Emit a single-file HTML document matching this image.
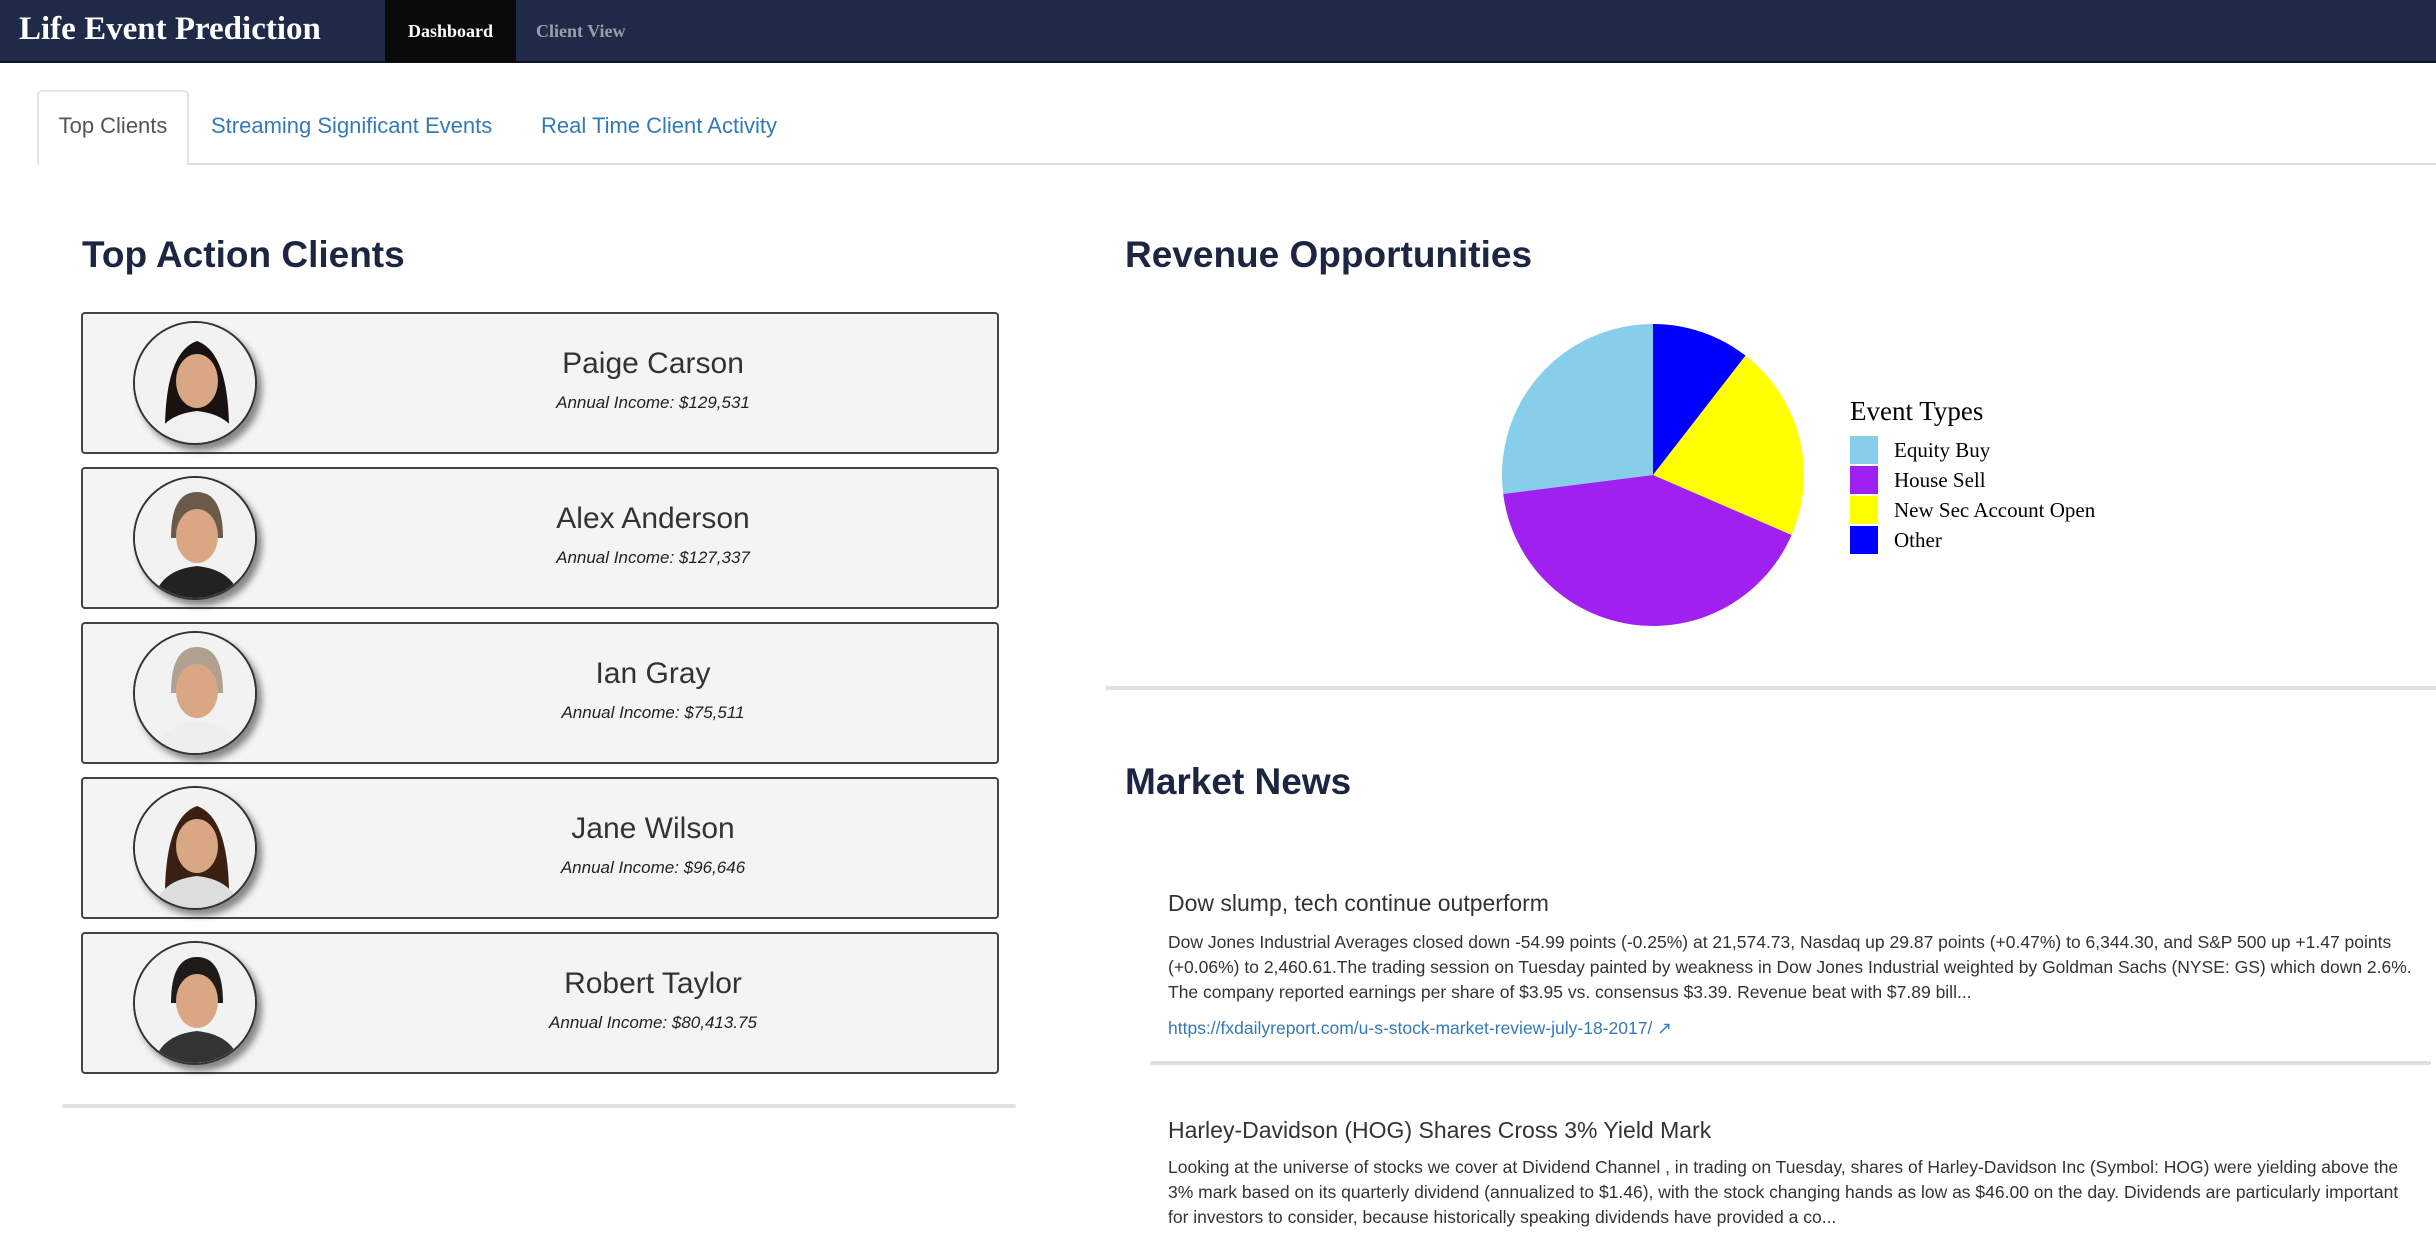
<!DOCTYPE html>
<html><head><meta charset="utf-8">
<style>
*{box-sizing:border-box;margin:0;padding:0}
body{width:2436px;height:1240px;overflow:hidden;background:#fff;font-family:"Liberation Sans",Arial,sans-serif;position:relative}
.abs{position:absolute}
.nav{left:0;top:0;width:2436px;height:63px;background:#1e2a47;border-bottom:2px solid #0d1322}
.brand{left:19px;top:11px;font-family:"Liberation Serif",serif;font-weight:bold;font-size:33px;color:#fff;white-space:nowrap}
.navact{left:385px;top:0;width:131px;height:62px;background:#0a0a0a;color:#fff;font-family:"Liberation Serif",serif;font-weight:bold;font-size:18px;text-align:center;line-height:62px}
.navlink{left:536px;top:0;line-height:62px;color:#9aa0aa;font-family:"Liberation Serif",serif;font-weight:bold;font-size:18px}
.tabline{left:37px;top:163px;width:2399px;height:2px;background:#ddd}
.tab{top:90px;height:75px;left:37px;width:152px;border:2px solid #e3e3e3;border-bottom:none;background:#fff;border-radius:5px 5px 0 0;font-size:22px;color:#555;text-align:center;line-height:68px}
.tablink{top:90px;line-height:72px;font-size:22px;color:#337ab7;white-space:nowrap}
h2{position:absolute;font-size:37px;font-weight:bold;color:#1c2541;white-space:nowrap}
.card{left:81px;width:918px;height:142px;background:#f4f4f4;border:2px solid #444;border-radius:4px}
.av{position:absolute;left:50px;top:7px;width:124px;height:124px;border-radius:50%;border:2px solid #333;overflow:hidden;box-shadow:5px 6px 7px rgba(0,0,0,.45);background:#fff}
.nm{position:absolute;left:300px;width:540px;text-align:center;top:33px;font-size:30px;color:#333}
.inc{position:absolute;left:300px;width:540px;text-align:center;top:79px;font-size:17px;font-style:italic;color:#222}
.news{font-size:17.5px;color:#333;line-height:25px;white-space:nowrap}
.nt{font-size:23px;color:#333;white-space:nowrap}
</style></head><body>
<div class="abs nav"></div>
<div class="abs brand">Life Event Prediction</div>
<div class="abs navact">Dashboard</div>
<div class="abs navlink">Client View</div>

<div class="abs tabline"></div>
<div class="abs tab">Top Clients</div>
<div class="abs tablink" style="left:211px">Streaming Significant Events</div>
<div class="abs tablink" style="left:541px">Real Time Client Activity</div>

<h2 style="left:82px;top:234px">Top Action Clients</h2>

<div id="cards"></div>
<div class="abs" style="left:62px;top:1104px;width:954px;height:4px;background:#e2e2e2;border-radius:2px"></div>

<h2 style="left:1125px;top:234px">Revenue Opportunities</h2>
<svg class="abs" id="pie" style="left:1450px;top:300px" width="700" height="360"></svg>

<div class="abs" style="left:1106px;top:686px;width:1330px;height:4px;background:#e2e2e2"></div>
<h2 style="left:1125px;top:761px">Market News</h2>

<div class="abs nt" style="left:1168px;top:890px">Dow slump, tech continue outperform</div>
<div class="abs news" style="left:1168px;top:930px">Dow Jones Industrial Averages closed down -54.99 points (-0.25%) at 21,574.73, Nasdaq up 29.87 points (+0.47%) to 6,344.30, and S&amp;P 500 up +1.47 points<br>(+0.06%) to 2,460.61.The trading session on Tuesday painted by weakness in Dow Jones Industrial weighted by Goldman Sachs (NYSE: GS) which down 2.6%.<br>The company reported earnings per share of $3.95 vs. consensus $3.39. Revenue beat with $7.89 bill...</div>
<div class="abs news" style="left:1168px;top:1016px;color:#337ab7">https://fxdailyreport.com/u-s-stock-market-review-july-18-2017/ &#x2197;</div>
<div class="abs" style="left:1150px;top:1061px;width:1281px;height:4px;background:#e0e0e0;border-radius:2px"></div>

<div class="abs nt" style="left:1168px;top:1117px">Harley-Davidson (HOG) Shares Cross 3% Yield Mark</div>
<div class="abs news" style="left:1168px;top:1155px">Looking at the universe of stocks we cover at Dividend Channel , in trading on Tuesday, shares of Harley-Davidson Inc (Symbol: HOG) were yielding above the<br>3% mark based on its quarterly dividend (annualized to $1.46), with the stock changing hands as low as $46.00 on the day. Dividends are particularly important<br>for investors to consider, because historically speaking dividends have provided a co...</div>

<script>
const clientNames=["Paige Carson","Alex Anderson","Ian Gray","Jane Wilson","Robert Taylor"];
const clientIncome=["$129,531","$127,337","$75,511","$96,646","$80,413.75"];
const hair=["#1a1210","#6b5a4a","#b0a090","#3a1f12","#1e1a18"];
const suit=["#f0f0f0","#222","#eee","#ddd","#333"];
const cards=document.getElementById('cards');
clientNames.forEach((n,i)=>{
  const c=document.createElement('div');
  c.className='abs card';c.style.top=(312+i*155)+'px';
  
  
  c.innerHTML='<div class="av"><svg width="124" height="124"><rect width="124" height="124" fill="#f2f2f2"/>'+
   '<path d="M'+(i===0||i===3?'30 120 Q28 30 62 18 Q96 30 94 120Z':'36 60 Q36 14 62 14 Q88 14 88 60Z')+'" fill="'+hair[i]+'"/>'+
   '<ellipse cx="62" cy="58" rx="21" ry="27" fill="#d9a784"/>'+
   '<path d="M18 124 Q24 92 62 88 Q100 92 106 124Z" fill="'+suit[i]+'"/></svg></div>'+
   '<div class="nm">'+n+'</div><div class="inc">Annual Income: '+clientIncome[i]+'</div>';
  cards.appendChild(c);
});

const categories=["Equity Buy","House Sell","New Sec Account Open","Other"];
const values=[27,41.5,21,10.5];
const colors=["#87ceeb","#a020f0","#ffff00","#0000ff"];
const NS="http://www.w3.org/2000/svg";
const svg=document.getElementById('pie');
const cx=203,cy=175,r=151;
const drawOrder=[3,2,1,0];
const total=values.reduce((a,b)=>a+b,0);
let a0=0;
drawOrder.forEach(k=>{
  const a1=a0+values[k]/total*2*Math.PI;
  const x0=cx+r*Math.sin(a0),y0=cy-r*Math.cos(a0),x1=cx+r*Math.sin(a1),y1=cy-r*Math.cos(a1);
  const p=document.createElementNS(NS,'path');
  p.setAttribute('d',`M${cx},${cy}L${x0},${y0}A${r},${r} 0 ${a1-a0>Math.PI?1:0} 1 ${x1},${y1}Z`);
  p.setAttribute('fill',colors[k]);
  
  
  svg.appendChild(p);a0=a1;
});
const t=document.createElementNS(NS,'text');
t.setAttribute('x',400);t.setAttribute('y',120);t.setAttribute('font-family','Liberation Serif, serif');t.setAttribute('font-size','27');
t.textContent='Event Types';


svg.appendChild(t);
categories.forEach((c,i)=>{
  const g=document.createElementNS(NS,'g');
  
  
  const s=document.createElementNS(NS,'rect');
  s.setAttribute('x',400);s.setAttribute('y',136+i*30);s.setAttribute('width',28);s.setAttribute('height',28);s.setAttribute('fill',colors[i]);
  const l=document.createElementNS(NS,'text');
  l.setAttribute('x',444);l.setAttribute('y',157+i*30);l.setAttribute('font-family','Liberation Serif, serif');l.setAttribute('font-size','21');
  l.textContent=c;
  g.appendChild(s);g.appendChild(l);svg.appendChild(g);
});
</script>
</body></html>
